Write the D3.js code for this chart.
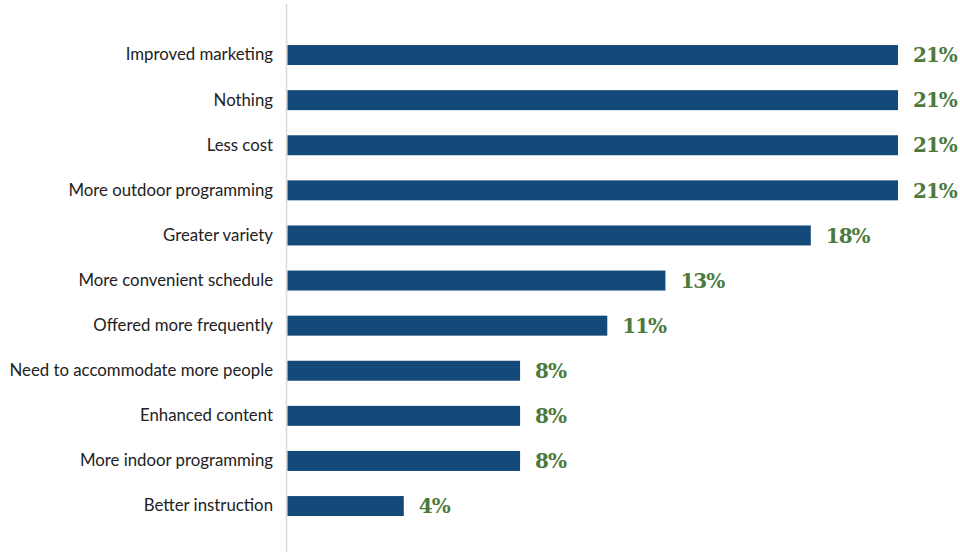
<!DOCTYPE html>
<html>
<head>
<meta charset="utf-8">
<script src="https://cdn.jsdelivr.net/npm/d3@7"></script>
<style>
  html, body { margin: 0; padding: 0; background: #fff; }
  svg { display: block; }
</style>
</head>
<body>
<svg id="chart" width="960" height="552"></svg>
<script>
// Survey responses: what would improve programs
const categories = [
  "Improved marketing",
  "Nothing",
  "Less cost",
  "More outdoor programming",
  "Greater variety",
  "More convenient schedule",
  "Offered more frequently",
  "Need to accommodate more people",
  "Enhanced content",
  "More indoor programming",
  "Better instruction"
];
const values = [21, 21, 21, 21, 18, 13, 11, 8, 8, 8, 4];

const width = 960, height = 552;
const svg = d3.select("#chart");

const x = d3.scaleLinear().domain([0, 21]).range([287.5, 898]);
const y = d3.scaleBand()
  .domain(categories)
  .range([32.5, 528.6])
  .paddingInner(0.557)
  .paddingOuter(0.2785);

// vertical baseline
svg.append("line")
  .attr("x1", 286.5).attr("x2", 286.5)
  .attr("y1", 4).attr("y2", height)
  .attr("stroke", "#d9d9d9")
  .attr("stroke-width", 1.5);

const rows = categories.map((c, i) => ({ c, v: values[i] }));

svg.append("g").selectAll("rect")
  .data(rows)
  .join("rect")
  .attr("x", x(0))
  .attr("y", d => y(d.c))
  .attr("width", d => x(d.v) - x(0))
  .attr("height", y.bandwidth())
  .attr("fill", "#134a7a");

svg.append("g").selectAll("text")
  .data(rows)
  .join("text")
  .attr("x", 273)
  .attr("y", d => y(d.c) + y.bandwidth() / 2)
  .attr("dy", "0.32em")
  .attr("text-anchor", "end")
  .attr("font-family", "Lato, 'Open Sans', sans-serif")
  .attr("font-size", 16.8)
  .attr("fill", "#222")
  .text(d => d.c);

svg.append("g").selectAll("text")
  .data(rows)
  .join("text")
  .attr("x", d => x(d.v) + 15)
  .attr("y", d => y(d.c) + y.bandwidth() / 2)
  .attr("dy", "0.36em")
  .attr("font-family", "'DejaVu Serif', serif")
  .attr("font-weight", "bold")
  .attr("font-size", 20)
  .attr("letter-spacing", "-1px")
  .attr("fill", "#4c7a3c")
  .text(d => d.v + "%");
</script>
</body>
</html>
